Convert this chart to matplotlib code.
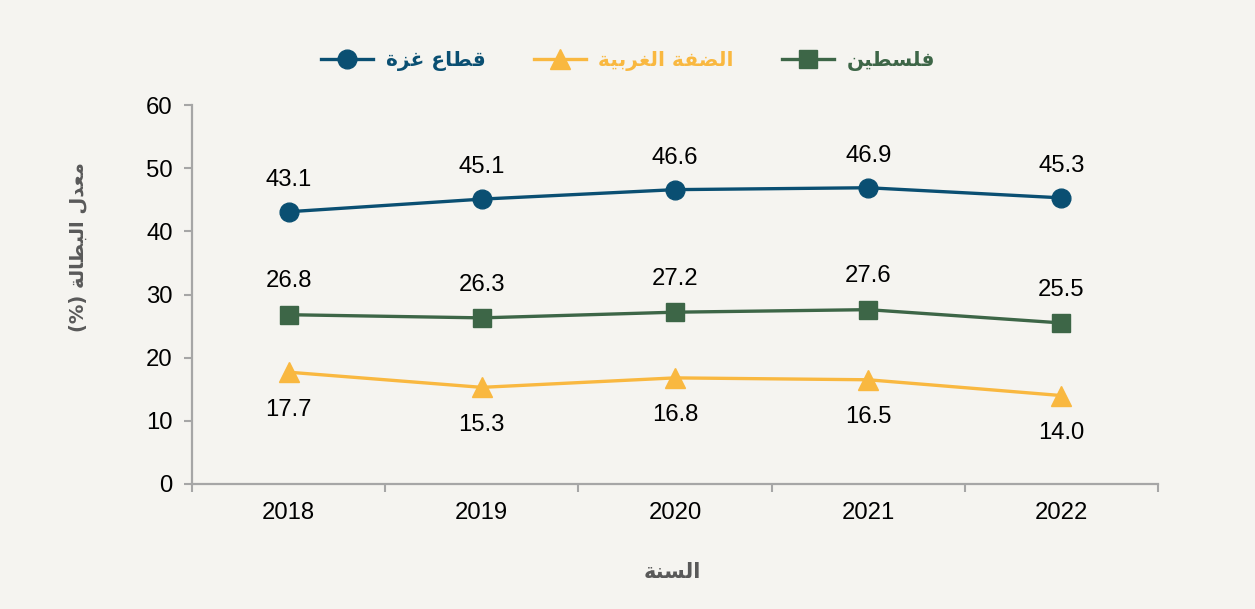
import matplotlib
matplotlib.use("Agg")
import matplotlib.pyplot as plt
from matplotlib.ticker import FixedLocator

years = ["2018", "2019", "2020", "2021", "2022"]
gaza = [43.1, 45.1, 46.6, 46.9, 45.3]
west_bank = [17.7, 15.3, 16.8, 16.5, 14.0]
palestine = [26.8, 26.3, 27.2, 27.6, 25.5]
yticks = [0, 10, 20, 30, 40, 50, 60]

lbl_gaza = "قطاع غزة"
lbl_wb = "الضفة الغربية"
lbl_pal = "فلسطين"
lbl_y = "معدل البطالة (%)"
lbl_x = "السنة"

# ---- minimal Arabic shaping (matplotlib has no complex text layout) ----
FORMS = {
    'ا': ('\uFE8D', '\uFE8E', None, None),
    'ب': ('\uFE8F', '\uFE90', '\uFE91', '\uFE92'),
    'ة': ('\uFE93', '\uFE94', None, None),
    'ت': ('\uFE95', '\uFE96', '\uFE97', '\uFE98'),
    'د': ('\uFEA9', '\uFEAA', None, None),
    'ر': ('\uFEAD', '\uFEAE', None, None),
    'ز': ('\uFEAF', '\uFEB0', None, None),
    'س': ('\uFEB1', '\uFEB2', '\uFEB3', '\uFEB4'),
    'ض': ('\uFEBD', '\uFEBE', '\uFEBF', '\uFEC0'),
    'ط': ('\uFEC1', '\uFEC2', '\uFEC3', '\uFEC4'),
    'ع': ('\uFEC9', '\uFECA', '\uFECB', '\uFECC'),
    'غ': ('\uFECD', '\uFECE', '\uFECF', '\uFED0'),
    'ف': ('\uFED1', '\uFED2', '\uFED3', '\uFED4'),
    'ق': ('\uFED5', '\uFED6', '\uFED7', '\uFED8'),
    'ل': ('\uFEDD', '\uFEDE', '\uFEDF', '\uFEE0'),
    'م': ('\uFEE1', '\uFEE2', '\uFEE3', '\uFEE4'),
    'ن': ('\uFEE5', '\uFEE6', '\uFEE7', '\uFEE8'),
    'ي': ('\uFEF1', '\uFEF2', '\uFEF3', '\uFEF4'),
}
MIRROR = {'(': ')', ')': '('}


def shape(text):
    out = []
    n = len(text)
    for i, ch in enumerate(text):
        if ch not in FORMS:
            out.append(MIRROR.get(ch, ch))
            continue
        iso, fin, ini, med = FORMS[ch]
        prev = text[i - 1] if i > 0 else None
        nxt = text[i + 1] if i < n - 1 else None
        join_prev = prev in FORMS and FORMS[prev][2] is not None
        join_next = nxt in FORMS and ini is not None
        if join_prev and join_next:
            out.append(med)
        elif join_prev:
            out.append(fin)
        elif join_next:
            out.append(ini)
        else:
            out.append(iso)
    return ''.join(reversed(out))


BG = "#F5F4F0"
C_GAZA = "#0A4F72"
C_WB = "#F9B840"
C_PAL = "#3D6647"
GREY = "#A6A6A6"
AR_FONT = ["DejaVu Sans"]
NUM_FONT = ["Liberation Sans", "DejaVu Sans"]
FS = 17.2

fig = plt.figure(figsize=(12.55, 6.09), dpi=100, facecolor=BG)
ax = fig.add_axes([192 / 1255, 1 - 484 / 609, (1158 - 192) / 1255, (484 - 105) / 609])
ax.set_facecolor(BG)

x = list(range(len(years)))
l1, = ax.plot(x, gaza, color=C_GAZA, lw=2.4, marker='o', ms=13.5, label=shape(lbl_gaza))
l2, = ax.plot(x, west_bank, color=C_WB, lw=2.4, marker='^', ms=14, label=shape(lbl_wb))
l3, = ax.plot(x, palestine, color=C_PAL, lw=2.4, marker='s', ms=13.5, label=shape(lbl_pal))

for xi, v in zip(x, gaza):
    ax.annotate(f"{v:.1f}", (xi, v), xytext=(0, 23), textcoords="offset points",
                ha="center", va="center", fontsize=FS, family=NUM_FONT, color="black")
for xi, v in zip(x, palestine):
    ax.annotate(f"{v:.1f}", (xi, v), xytext=(0, 24), textcoords="offset points",
                ha="center", va="center", fontsize=FS, family=NUM_FONT, color="black")
for xi, v in zip(x, west_bank):
    ax.annotate(f"{v:.1f}", (xi, v), xytext=(0, -27), textcoords="offset points",
                ha="center", va="center", fontsize=FS, family=NUM_FONT, color="black")

ax.set_xlim(-0.5, 4.5)
ax.set_ylim(0, 60)
ax.set_yticks(yticks)
ax.set_xticks(x)
ax.set_xticklabels(years)
ax.xaxis.set_minor_locator(FixedLocator([i - 0.5 for i in range(len(years) + 1)]))
ax.tick_params(axis='x', which='major', length=0, pad=13)
ax.tick_params(axis='x', which='minor', length=6, width=1.5, color=GREY, direction='out')
ax.tick_params(axis='y', length=6, width=1.5, color=GREY, direction='out', pad=8)
for lab in ax.get_xticklabels() + ax.get_yticklabels():
    lab.set_fontsize(FS)
    lab.set_family(NUM_FONT)
    lab.set_color("black")

for s in ["top", "right"]:
    ax.spines[s].set_visible(False)
for s in ["left", "bottom"]:
    ax.spines[s].set_color(GREY)
    ax.spines[s].set_linewidth(1.6)

fig.text(78 / 1255, 1 - 247 / 609, shape(lbl_y), rotation=90, ha="center", va="center",
         fontsize=14, fontweight="bold", color="#595959", family=AR_FONT)
fig.text(672 / 1255, 1 - 572 / 609, shape(lbl_x), ha="center", va="center",
         fontsize=15, fontweight="bold", color="#595959", family=AR_FONT)

leg = ax.legend(handles=[l1, l2, l3], loc="center", bbox_to_anchor=(628 / 1255, 1 - 61 / 609),
                bbox_transform=fig.transFigure, ncol=3, frameon=False, handlelength=2.6,
                handletextpad=0.6, columnspacing=2.4,
                prop={"family": AR_FONT, "weight": "bold", "size": 14.5})
for txt, c in zip(leg.get_texts(), [C_GAZA, C_WB, C_PAL]):
    txt.set_color(c)

fig.savefig("out.png", dpi=100, facecolor=BG)
